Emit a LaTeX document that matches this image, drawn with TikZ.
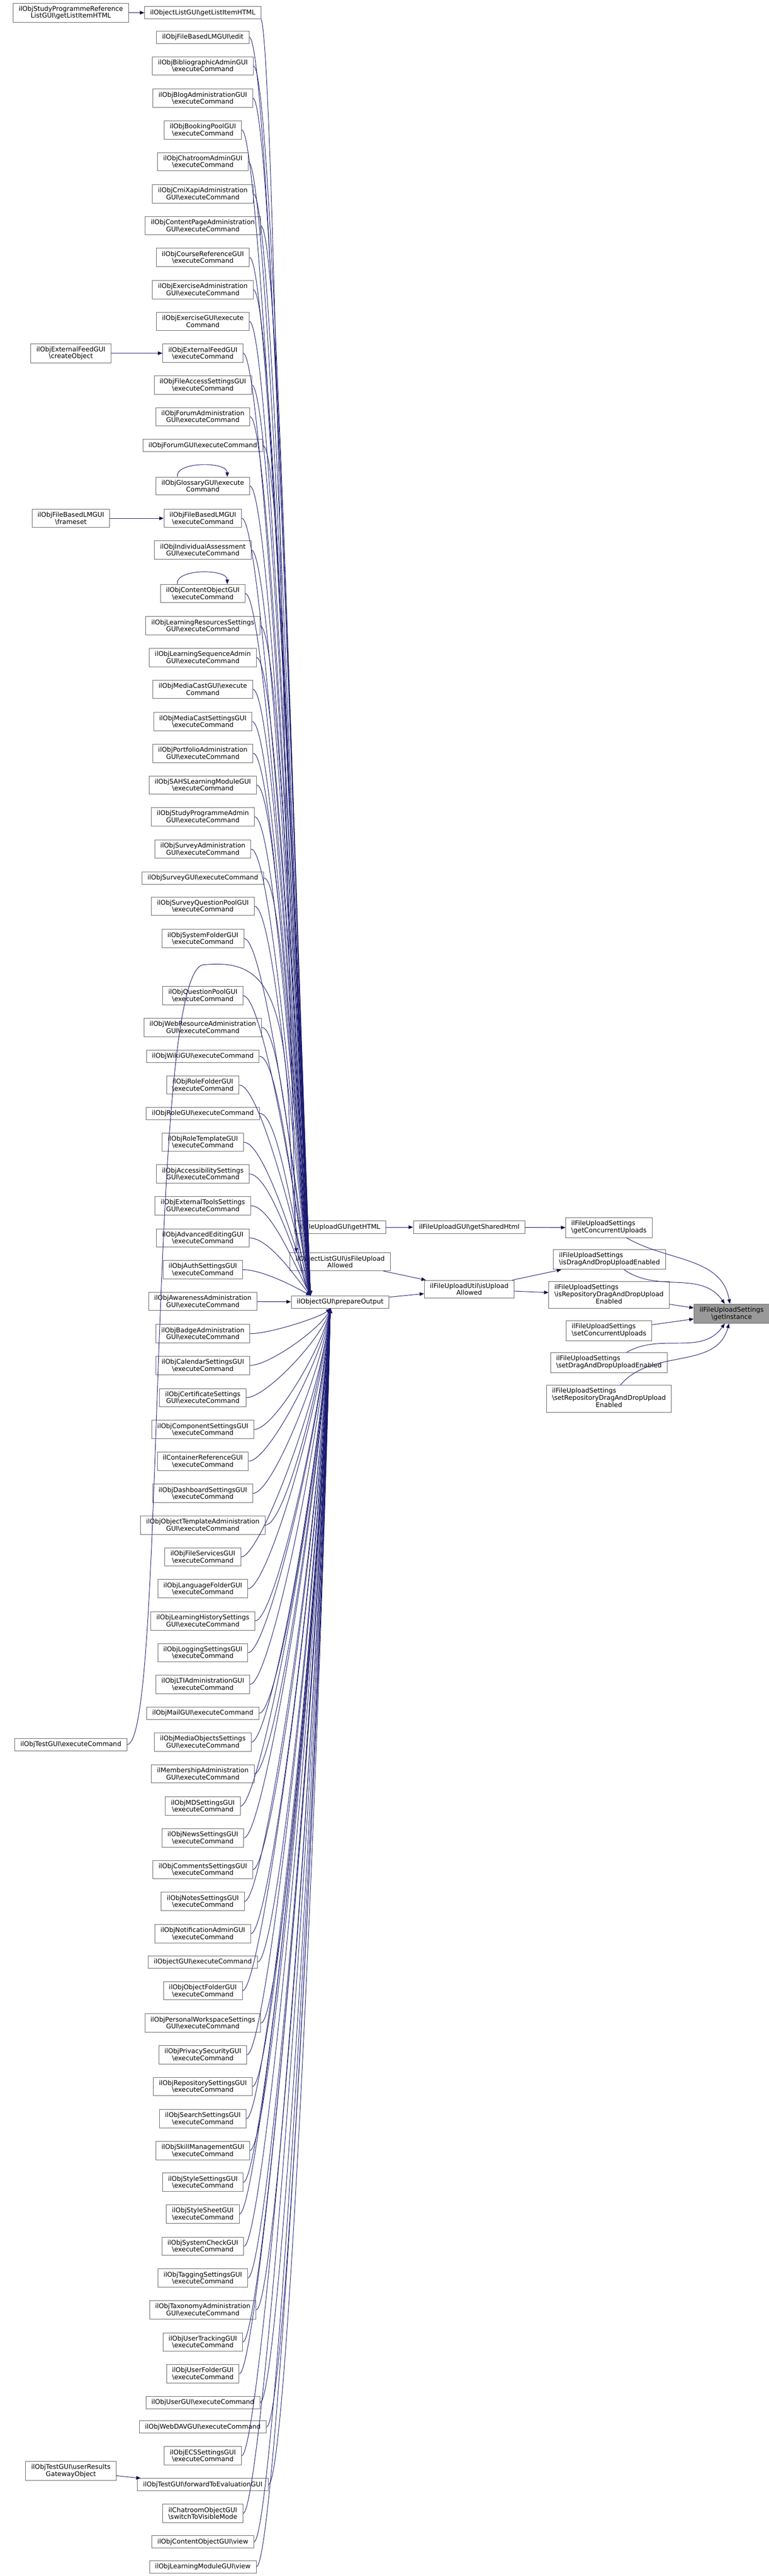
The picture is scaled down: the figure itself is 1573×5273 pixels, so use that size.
\documentclass[tikz,border=0pt]{standalone}
\usepackage{fontspec}
\setmainfont{DejaVu Sans}
\usetikzlibrary{arrows.meta,calc}
\definecolor{edgeblue}{HTML}{191970}
\definecolor{framegray}{HTML}{666666}
\definecolor{maingray}{HTML}{999999}
\newcommand{\bsl}{\textbackslash}

\begin{document}
\begin{tikzpicture}[x=0.75pt, y=-0.75pt, >={Triangle[length=7pt,width=5.5pt]},
    main node/.style={draw=framegray, line width=0.75pt, fill=white, align=center,
      font=\fontsize{10}{10.7}\selectfont, inner xsep=8.5pt, inner ysep=4.5pt, minimum height=19pt},
    focus node/.style={main node, fill=maingray},
    call/.style={->, draw=edgeblue, line width=0.75pt}]
  \useasboundingbox (0,0) rectangle (1573,5273);

  % callers of ilObjectGUI::prepareOutput
  \node[main node] (1) at (415,26) {ilObjectListGUI\bsl getListItemHTML};
  \node[main node] (2) at (415,76) {ilObjFileBasedLMGUI\bsl edit};
  \node[main node] (3) at (415,135) {ilObjBibliographicAdminGUI\\\bsl executeCommand};
  \node[main node] (4) at (415,201) {ilObjBlogAdministrationGUI\\\bsl executeCommand};
  \node[main node] (5) at (415,266) {ilObjBookingPoolGUI\\\bsl executeCommand};
  \node[main node] (6) at (415,331) {ilObjChatroomAdminGUI\\\bsl executeCommand};
  \node[main node] (7) at (415,397) {ilObjCmiXapiAdministration\\GUI\bsl executeCommand};
  \node[main node] (8) at (415,462) {ilObjContentPageAdministration\\GUI\bsl executeCommand};
  \node[main node] (9) at (415,527) {ilObjCourseReferenceGUI\\\bsl executeCommand};
  \node[main node] (10) at (415,593) {ilObjExerciseAdministration\\GUI\bsl executeCommand};
  \node[main node] (11) at (415,658) {ilObjExerciseGUI\bsl execute\\Command};
  \node[main node] (12) at (415,723) {ilObjExternalFeedGUI\\\bsl executeCommand};
  \node[main node] (13) at (415,788) {ilObjFileAccessSettingsGUI\\\bsl executeCommand};
  \node[main node] (14) at (415,853) {ilObjForumAdministration\\GUI\bsl executeCommand};
  \node[main node] (15) at (415,912) {ilObjForumGUI\bsl executeCommand};
  \node[main node] (16) at (415,995) {ilObjGlossaryGUI\bsl execute\\Command};
  \node[main node] (17) at (415,1061) {ilObjFileBasedLMGUI\\\bsl executeCommand};
  \node[main node] (18) at (415,1126) {ilObjIndividualAssessment\\GUI\bsl executeCommand};
  \node[main node] (19) at (415,1215) {ilObjContentObjectGUI\\\bsl executeCommand};
  \node[main node] (20) at (415,1281) {ilObjLearningResourcesSettings\\GUI\bsl executeCommand};
  \node[main node] (21) at (415,1346) {ilObjLearningSequenceAdmin\\GUI\bsl executeCommand};
  \node[main node] (22) at (415,1411) {ilObjMediaCastGUI\bsl execute\\Command};
  \node[main node] (23) at (415,1477) {ilObjMediaCastSettingsGUI\\\bsl executeCommand};
  \node[main node] (24) at (415,1542) {ilObjPortfolioAdministration\\GUI\bsl executeCommand};
  \node[main node] (25) at (415,1607) {ilObjSAHSLearningModuleGUI\\\bsl executeCommand};
  \node[main node] (26) at (415,1672) {ilObjStudyProgrammeAdmin\\GUI\bsl executeCommand};
  \node[main node] (27) at (415,1738) {ilObjSurveyAdministration\\GUI\bsl executeCommand};
  \node[main node] (28) at (415,1797) {ilObjSurveyGUI\bsl executeCommand};
  \node[main node] (29) at (415,1855) {ilObjSurveyQuestionPoolGUI\\\bsl executeCommand};
  \node[main node] (30) at (415,1921) {ilObjSystemFolderGUI\\\bsl executeCommand};
  \node[main node] (31) at (415,2038) {ilObjQuestionPoolGUI\\\bsl executeCommand};
  \node[main node] (32) at (415,2103) {ilObjWebResourceAdministration\\GUI\bsl executeCommand};
  \node[main node] (33) at (415,2162) {ilObjWikiGUI\bsl executeCommand};
  \node[main node] (34) at (415,2221) {ilObjRoleFolderGUI\\\bsl executeCommand};
  \node[main node] (35) at (415,2279) {ilObjRoleGUI\bsl executeCommand};
  \node[main node] (36) at (415,2338) {ilObjRoleTemplateGUI\\\bsl executeCommand};
  \node[main node] (37) at (415,2403) {ilObjAccessibilitySettings\\GUI\bsl executeCommand};
  \node[main node] (38) at (415,2468) {ilObjExternalToolsSettings\\GUI\bsl executeCommand};
  \node[main node] (39) at (415,2534) {ilObjAdvancedEditingGUI\\\bsl executeCommand};
  \node[main node] (40) at (415,2599) {ilObjAuthSettingsGUI\\\bsl executeCommand};
  \node[main node] (41) at (415,2664) {ilObjAwarenessAdministration\\GUI\bsl executeCommand};
  \node[main node] (42) at (415,2730) {ilObjBadgeAdministration\\GUI\bsl executeCommand};
  \node[main node] (43) at (415,2795) {ilObjCalendarSettingsGUI\\\bsl executeCommand};
  \node[main node] (44) at (415,2861) {ilObjCertificateSettings\\GUI\bsl executeCommand};
  \node[main node] (45) at (415,2926) {ilObjComponentSettingsGUI\\\bsl executeCommand};
  \node[main node] (46) at (415,2991) {ilContainerReferenceGUI\\\bsl executeCommand};
  \node[main node] (47) at (415,3057) {ilObjDashboardSettingsGUI\\\bsl executeCommand};
  \node[main node] (48) at (415,3122) {ilObjObjectTemplateAdministration\\GUI\bsl executeCommand};
  \node[main node] (49) at (415,3187) {ilObjFileServicesGUI\\\bsl executeCommand};
  \node[main node] (50) at (415,3252) {ilObjLanguageFolderGUI\\\bsl executeCommand};
  \node[main node] (51) at (415,3318) {ilObjLearningHistorySettings\\GUI\bsl executeCommand};
  \node[main node] (52) at (415,3383) {ilObjLoggingSettingsGUI\\\bsl executeCommand};
  \node[main node] (53) at (415,3448) {ilObjLTIAdministrationGUI\\\bsl executeCommand};
  \node[main node] (54) at (415,3507) {ilObjMailGUI\bsl executeCommand};
  \node[main node] (55) at (415,3566) {ilObjMediaObjectsSettings\\GUI\bsl executeCommand};
  \node[main node] (56) at (415,3631) {ilMembershipAdministration\\GUI\bsl executeCommand};
  \node[main node] (57) at (415,3697) {ilObjMDSettingsGUI\\\bsl executeCommand};
  \node[main node] (58) at (415,3762) {ilObjNewsSettingsGUI\\\bsl executeCommand};
  \node[main node] (59) at (415,3827) {ilObjCommentsSettingsGUI\\\bsl executeCommand};
  \node[main node] (60) at (415,3892) {ilObjNotesSettingsGUI\\\bsl executeCommand};
  \node[main node] (61) at (415,3958) {ilObjNotificationAdminGUI\\\bsl executeCommand};
  \node[main node] (62) at (415,4016) {ilObjectGUI\bsl executeCommand};
  \node[main node] (63) at (415,4075) {ilObjObjectFolderGUI\\\bsl executeCommand};
  \node[main node] (64) at (415,4141) {ilObjPersonalWorkspaceSettings\\GUI\bsl executeCommand};
  \node[main node] (65) at (415,4206) {ilObjPrivacySecurityGUI\\\bsl executeCommand};
  \node[main node] (66) at (415,4271) {ilObjRepositorySettingsGUI\\\bsl executeCommand};
  \node[main node] (67) at (415,4337) {ilObjSearchSettingsGUI\\\bsl executeCommand};
  \node[main node] (68) at (415,4402) {ilObjSkillManagementGUI\\\bsl executeCommand};
  \node[main node] (69) at (415,4467) {ilObjStyleSettingsGUI\\\bsl executeCommand};
  \node[main node] (70) at (415,4532) {ilObjStyleSheetGUI\\\bsl executeCommand};
  \node[main node] (71) at (415,4598) {ilObjSystemCheckGUI\\\bsl executeCommand};
  \node[main node] (72) at (415,4663) {ilObjTaggingSettingsGUI\\\bsl executeCommand};
  \node[main node] (73) at (415,4728) {ilObjTaxonomyAdministration\\GUI\bsl executeCommand};
  \node[main node] (74) at (415,4794) {ilObjUserTrackingGUI\\\bsl executeCommand};
  \node[main node] (75) at (415,4859) {ilObjUserFolderGUI\\\bsl executeCommand};
  \node[main node] (76) at (415,4918) {ilObjUserGUI\bsl executeCommand};
  \node[main node] (77) at (415,4968) {ilObjWebDAVGUI\bsl executeCommand};
  \node[main node] (78) at (415,5027) {ilObjECSSettingsGUI\\\bsl executeCommand};
  \node[main node] (79) at (415,5086) {ilObjTestGUI\bsl forwardToEvaluationGUI};
  \node[main node] (80) at (415,5145) {ilChatroomObjectGUI\\\bsl switchToVisibleMode};
  \node[main node] (81) at (415,5203) {ilObjContentObjectGUI\bsl view};
  \node[main node] (82) at (415,5254) {ilObjLearningModuleGUI\bsl view};

  % left column
  \node[main node] (95) at (145,26) {ilObjStudyProgrammeReference\\ListGUI\bsl getListItemHTML};
  \node[main node] (96) at (145,723) {ilObjExternalFeedGUI\\\bsl createObject};
  \node[main node] (97) at (145,1061) {ilObjFileBasedLMGUI\\\bsl frameset};
  \node[main node] (98) at (145,3571) {ilObjTestGUI\bsl executeCommand};
  \node[main node] (99) at (145,5058) {ilObjTestGUI\bsl userResults\\GatewayObject};
  \coordinate (v) at (415,1975);

  % right part
  \node[main node] (85) at (696,2512) {ilFileUploadGUI\bsl getHTML};
  \node[main node] (84) at (696,2583) {ilObjectListGUI\bsl isFileUpload\\Allowed};
  \node[main node] (83) at (696,2665) {ilObjectGUI\bsl prepareOutput};
  \node[main node] (86) at (960,2512) {ilFileUploadGUI\bsl getSharedHtml};
  \node[main node] (87) at (960,2639) {ilFileUploadUtil\bsl isUpload\\Allowed};
  \node[main node] (88) at (1246,2513) {\begin{tabular}{@{}l@{}}ilFileUploadSettings\\\bsl getConcurrentUploads\end{tabular}};
  \node[main node] (89) at (1247,2578) {\begin{tabular}{@{}l@{}}ilFileUploadSettings\\\bsl isDragAndDropUploadEnabled\end{tabular}};
  \node[main node] (90) at (1246,2651) {\begin{tabular}{@{}l@{}}ilFileUploadSettings\\\bsl isRepositoryDragAndDropUpload\\\multicolumn{1}{@{}c@{}}{Enabled}\end{tabular}};
  \node[main node] (91) at (1246,2724) {\begin{tabular}{@{}l@{}}ilFileUploadSettings\\\bsl setConcurrentUploads\end{tabular}};
  \node[main node] (92) at (1246,2789) {\begin{tabular}{@{}l@{}}ilFileUploadSettings\\\bsl setDragAndDropUploadEnabled\end{tabular}};
  \node[main node] (93) at (1246,2863) {\begin{tabular}{@{}l@{}}ilFileUploadSettings\\\bsl setRepositoryDragAndDropUpload\\\multicolumn{1}{@{}c@{}}{Enabled}\end{tabular}};
  \node[focus node] (94) at (1497,2689) {ilFileUploadSettings\\\bsl getInstance};

  % bundle into prepareOutput, from above and from below
  \foreach \i in {2,...,40}
    \draw[call] let \p1=(\i.east), \p2=([xshift=30pt]83.north west) in
      (\p1) .. controls +(30pt,0pt) and +(-25pt,{0.35*(\y1-\y2)}) .. (\p2);
  \foreach \i in {42,...,82}
    \draw[call] let \p1=(\i.east), \p2=([xshift=-15pt]83.south) in
      (\p1) .. controls +(30pt,0pt) and +(-15pt,{0.35*(\y1-\y2)}) .. (\p2);

  % self calls
  \foreach \i in {16,19}
    \draw[call] ([xshift=-39pt]\i.north) .. controls +(-4pt,24pt) and +(0pt,24pt) .. ([xshift=37.5pt]\i.north);

  \path[call]
    (95) edge (1)
    (96) edge (12)
    (97) edge (17)
    (99) edge (79)
    (41) edge (83)
    (85) edge (86)
    (86) edge (88)
    (84) edge (87)
    (83) edge (87)
    (87) edge (89)
    (87) edge (90)
    (88) edge[out=-30, in=100] (94)
    (89) edge[out=-35, in=125] (94)
    (90) edge (94)
    (91) edge (94)
    (92) edge[out=30, in=-125] (94)
    (93) edge[out=50, in=-105] (94);
  \draw[call] (1.south east) .. controls +(20pt,-60pt) and +(-15pt,500pt) .. ([xshift=10pt]84.north west);
  \draw[call] (98.east) .. controls +(60pt,0pt) and (300,2000) .. (v)
    .. controls (520,1965) and (575,2000) .. (590,2250)
    .. controls (600,2500) and (610,2600) .. ([xshift=30pt]83.north west);
\end{tikzpicture}
\end{document}
